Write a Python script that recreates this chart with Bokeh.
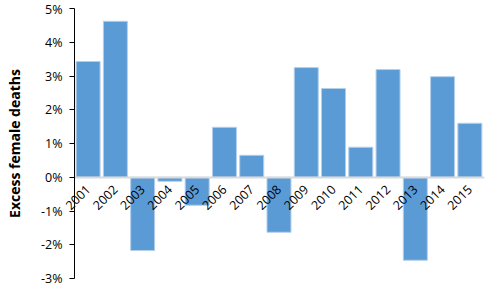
import math
from bokeh.plotting import figure
from bokeh.models import ColumnDataSource, FixedTicker, PrintfTickFormatter, Range1d
from bokeh.embed import file_html
from bokeh.resources import INLINE

years = ["2001", "2002", "2003", "2004", "2005", "2006", "2007", "2008",
         "2009", "2010", "2011", "2012", "2013", "2014", "2015"]
excess_pct = [3.43, 4.62, -2.17, -0.12, -0.83, 1.48, 0.65, -1.63,
              3.25, 2.63, 0.89, 3.19, -2.46, 2.98, 1.60]
y_ticks = [-3, -2, -1, 0, 1, 2, 3, 4, 5]

pos = list(range(len(years)))
src = ColumnDataSource(dict(x=pos, year=years, v=excess_pct))

# extra room inside the frame so the axis labels are not clipped
first_edge = -0.5
last_edge = len(years) - 0.5
y_lo, y_hi = min(y_ticks), max(y_ticks)
p = figure(width=500, height=290,
           x_range=Range1d(first_edge - 2.713, last_edge + 0.037),
           y_range=Range1d(y_lo - 0.296, y_hi + 0.237),
           output_backend="svg", toolbar_location=None,
           min_border_left=0, min_border_right=16, min_border_top=0, min_border_bottom=2)

p.vbar(x="x", top="v", bottom=0, width=0.88, source=src,
       fill_color="#5B9BD5", line_color="#b4cfea", line_width=1)

xa = p.xaxis[0]
xa.fixed_location = 0
xa.bounds = (first_edge, last_edge + 0.037)
xa.ticker = FixedTicker(ticks=pos)
xa.major_label_overrides = {i: y for i, y in zip(pos, years)}
xa.axis_line_color = "#d9d9d9"
xa.axis_line_width = 2
xa.major_tick_line_color = None
xa.minor_tick_line_color = None
xa.major_label_orientation = math.pi / 4
xa.major_label_standoff = 4
xa.major_label_text_font = "Open Sans"
xa.major_label_text_font_size = "12.5px"
xa.major_label_text_color = "#000000"

p.xgrid.visible = False
p.ygrid.visible = False
p.outline_line_color = None

ya = p.yaxis[0]
ya.fixed_location = first_edge
ya.bounds = (y_lo, y_hi)
ya.ticker = FixedTicker(ticks=y_ticks)
ya.formatter = PrintfTickFormatter(format="%d%%")
ya.axis_line_color = "#000000"
ya.major_tick_line_color = "#000000"
ya.major_tick_out = 5
ya.major_tick_in = 0
ya.minor_tick_line_color = None
ya.major_label_text_font = "Open Sans"
ya.major_label_text_font_size = "12.5px"
ya.major_label_text_color = "#000000"
ya.major_label_standoff = 7
ya.axis_label = "Excess female deaths"
ya.axis_label_text_font = "Open Sans"
ya.axis_label_text_font_style = "bold"
ya.axis_label_text_font_size = "14px"
ya.axis_label_text_color = "#000000"
ya.axis_label_standoff = 14

open("out.html", "w").write(file_html(p, INLINE))
